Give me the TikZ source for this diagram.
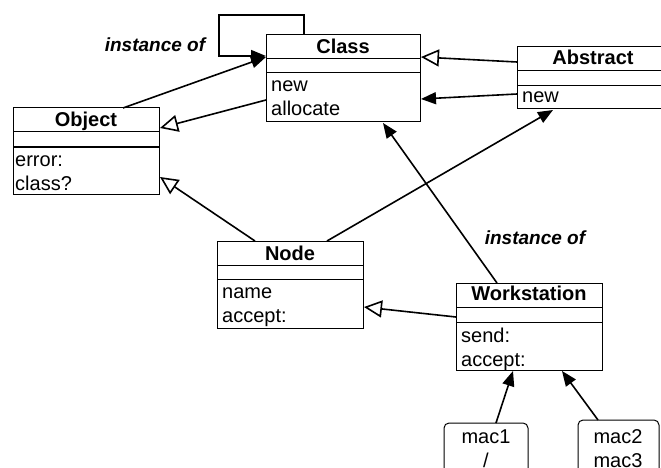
\documentclass[tikz,border=0pt]{standalone}
\usepackage{fontspec}
\setmainfont{Liberation Sans}
\usetikzlibrary{arrows.meta}
\tikzset{
  umlbox/.style={draw, line width=1pt, inner sep=0pt, outer sep=0pt, anchor=north west},
  macbox/.style={umlbox, rounded corners=5pt},
  title/.style={anchor=base, inner sep=0pt, font=\fontsize{20}{24}\selectfont\bfseries},
  member/.style={anchor=base west, inner sep=0pt, font=\fontsize{20}{24}\selectfont},
  plain/.style={anchor=base, inner sep=0pt, font=\fontsize{20}{24}\selectfont},
  lbl/.style={inner sep=0pt, font=\fontsize{19}{22}\selectfont\bfseries\itshape},
  sep/.style={line width=1pt},
  gen/.style={line width=1.6pt, -{Triangle[open,length=18pt,width=17pt]}},
  assoc/.style={line width=1.6pt, -{Triangle[length=15pt,width=12pt]}}
}
\begin{document}
\begin{tikzpicture}[x=1pt,y=-1pt]
\useasboundingbox (0,0) rectangle (661,468);
\clip (0,0) rectangle (661,468);
% Class
\node[umlbox, minimum width=154pt, minimum height=87pt] (cls) at (266,35) {};
\draw[sep] ([yshift=-24pt]cls.north west) -- ([yshift=-24pt]cls.north east);
\draw[sep] ([yshift=-38pt]cls.north west) -- ([yshift=-38pt]cls.north east);
\node[title] (clsT) at (343,54) {Class};
\node[member] (clsM1) at (271,92) {new};
\node[member] (clsM2) at (271,116) {allocate};
% Object
\node[umlbox, minimum width=146pt, minimum height=86pt] (obj) at (13,108) {};
\draw[sep] ([yshift=-24pt]obj.north west) -- ([yshift=-24pt]obj.north east);
\draw[sep] ([yshift=-39pt]obj.north west) -- ([yshift=-39pt]obj.north east);
\node[title] (objT) at (86,127) {Object};
\node[member] (objM1) at (15,166) {error:};
\node[member] (objM2) at (15,190) {class?};
% Abstract
\node[umlbox, minimum width=152pt, minimum height=62pt] (abs) at (517,47) {};
\draw[sep] ([yshift=-24pt]abs.north west) -- ([yshift=-24pt]abs.north east);
\draw[sep] ([yshift=-39pt]abs.north west) -- ([yshift=-39pt]abs.north east);
\node[title] (absT) at (593,65) {Abstract};
\node[member] (absM1) at (522,103) {new};
% Node
\node[umlbox, minimum width=146pt, minimum height=87pt] (nd) at (217,241) {};
\draw[sep] ([yshift=-24pt]nd.north west) -- ([yshift=-24pt]nd.north east);
\draw[sep] ([yshift=-38pt]nd.north west) -- ([yshift=-38pt]nd.north east);
\node[title] (ndT) at (290,260) {Node};
\node[member] (ndM1) at (222,298) {name};
\node[member] (ndM2) at (222,322) {accept:};
% Workstation
\node[umlbox, minimum width=146pt, minimum height=87pt] (ws) at (456,283) {};
\draw[sep] ([yshift=-24pt]ws.north west) -- ([yshift=-24pt]ws.north east);
\draw[sep] ([yshift=-39pt]ws.north west) -- ([yshift=-39pt]ws.north east);
\node[title] (wsT) at (529,300) {Workstation};
\node[member] (wsM1) at (461,342) {send:};
\node[member] (wsM2) at (461,366) {accept:};
% mac boxes
\node[macbox, minimum width=84pt, minimum height=80pt] (mac1) at (444,423) {};
\node[plain] (mac1a) at (486,443) {mac1};
\node[plain] (mac1b) at (486,467) {/};
\node[macbox, minimum width=81pt, minimum height=80pt] (mac2) at (578,420) {};
\node[plain] (mac2a) at (618,443) {mac2};
\node[plain] (mac2b) at (618,467) {mac3};
% labels
\node[lbl] (lbl1) at (155,45) {instance of};
\node[lbl] (lbl2) at (535,238) {instance of};
% connectors
\draw[assoc] ([xshift=38pt]cls.north west) -- ++(0,-20) -- ++(-85,0) -- ++(0,41) -- ([yshift=-21pt]cls.north west);
\draw[assoc] ([xshift=110pt]obj.north west) -- ([yshift=-22pt]cls.north west);
\draw[gen] ([yshift=-65pt]cls.north west) -- ([xshift=1pt,yshift=-20pt]obj.north east);
\draw[gen] ([yshift=-15pt]abs.north west) -- ([xshift=1pt,yshift=-22pt]cls.north east);
\draw[assoc] ([yshift=-47pt]abs.north west) -- ([xshift=1pt,yshift=-64pt]cls.north east);
\draw[assoc] ([xshift=110pt]nd.north west) -- ([xshift=36pt,yshift=-1pt]abs.south west);
\draw[gen] ([xshift=38pt]nd.north west) -- ([xshift=1pt,yshift=17pt]obj.south east);
\draw[assoc] ([xshift=41pt]ws.north west) -- ([xshift=-37pt,yshift=-1pt]cls.south east);
\draw[gen] ([yshift=-34pt]ws.north west) -- ([xshift=1pt,yshift=-66pt]nd.north east);
\draw[assoc] ([xshift=52pt]mac1.north west) -- ([xshift=57pt,yshift=-1pt]ws.south west);
\draw[assoc] ([xshift=20pt]mac2.north west) -- ([xshift=106pt,yshift=-1pt]ws.south west);
\end{tikzpicture}
\end{document}
